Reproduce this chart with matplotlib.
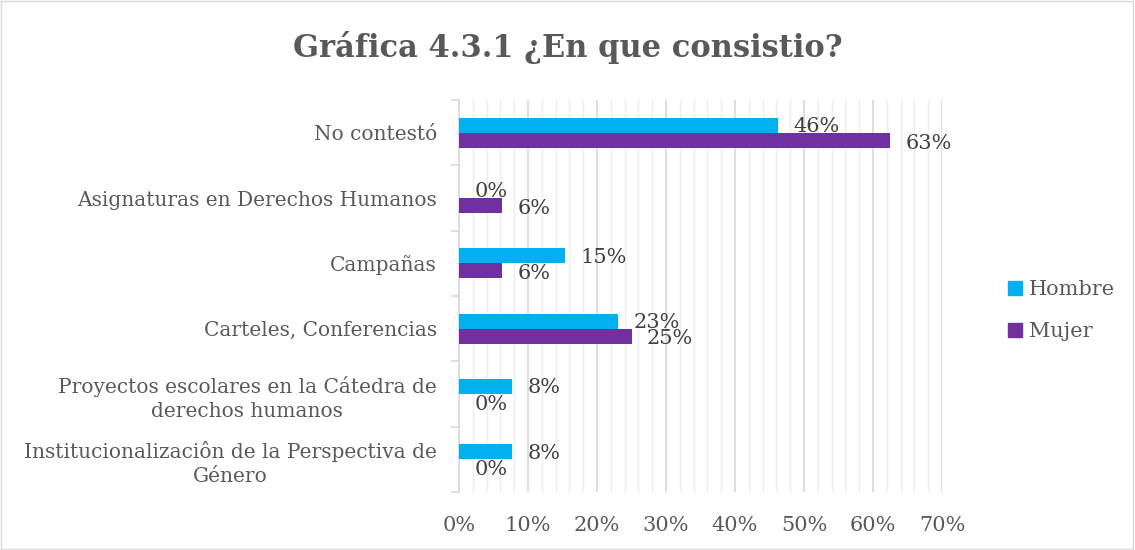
import matplotlib
matplotlib.use('Agg')
import matplotlib.pyplot as plt
from matplotlib.ticker import MultipleLocator, PercentFormatter
from matplotlib.patches import Patch, Rectangle

# datos
categorias = ['No contestó',
              'Asignaturas en Derechos Humanos',
              'Campañas',
              'Carteles, Conferencias',
              'Proyectos escolares en la Cátedra de\nderechos humanos',
              'Institucionalizaciôn de la Perspectiva de\nGénero']
hombre = [46.2, 0, 15.4, 23.1, 7.7, 7.7]
mujer = [62.5, 6.25, 6.25, 25.0, 0, 0]
series = ['Hombre', 'Mujer']
colores = ['#00B0F0', '#7030A0']

gris = '#595959'
fuente = 'DejaVu Serif'
plt.rcParams['font.family'] = fuente

fig = plt.figure(figsize=(11.35, 5.5), dpi=100)
ax = fig.add_axes([0.4044, 0.1055, 0.4256, 0.7125])

n = len(categorias)
pos = [n - 1 - i for i in range(n)]
h = 0.23
ax.barh([p + h/2 for p in pos], hombre, height=h, color=colores[0], zorder=3)
ax.barh([p - h/2 for p in pos], mujer, height=h, color=colores[1], zorder=3)

def etiqueta(v):
    # redondeo como Excel (mitad hacia arriba)
    return '%d%%' % int(v + 0.5)

# etiquetas de datos
for p, v in zip(pos, hombre):
    ax.annotate(etiqueta(v), (v, p + h/2), xytext=(11, -1), textcoords='offset points',
                va='center', ha='left', fontsize=15, color='#404040', zorder=4)
for p, v in zip(pos, mujer):
    ax.annotate(etiqueta(v), (v, p - h/2), xytext=(11, -2), textcoords='offset points',
                va='center', ha='left', fontsize=15, color='#404040', zorder=4)

ax.set_xlim(0, 70)
ax.set_ylim(-0.5, n - 0.5)
ax.xaxis.set_major_locator(MultipleLocator(10))
ax.xaxis.set_minor_locator(MultipleLocator(2))
ax.xaxis.set_major_formatter(PercentFormatter(decimals=0))
ax.grid(axis='x', which='major', color='#D9D9D9', lw=1.2, zorder=0)
ax.grid(axis='x', which='minor', color='#EDEDED', lw=1, zorder=0)
ax.tick_params(axis='x', which='both', length=0, labelsize=15, labelcolor=gris, pad=17)

ax.set_yticks(pos)
ax.set_yticklabels(categorias, fontsize=14.5, color=gris, multialignment='center',
                   linespacing=1.3)
ax.set_yticks([p + 0.5 for p in range(-1, n)], minor=True)
ax.tick_params(axis='y', which='major', length=0, pad=16)
ax.tick_params(axis='y', which='minor', length=6, color='#D9D9D9', width=1.2)

for s in ['top', 'right', 'bottom']:
    ax.spines[s].set_visible(False)
ax.spines['left'].set_color('#D9D9D9')
ax.spines['left'].set_linewidth(1.2)

fig.text(0.5, 0.914, 'Gráfica 4.3.1 ¿En que consistio?', ha='center', va='center',
         fontsize=22, fontweight='bold', color=gris)

handles = [Patch(color=c) for c in colores]
fig.legend(handles, series, loc='center left', bbox_to_anchor=(0.872, 0.435), frameon=False,
           fontsize=15, labelcolor=gris, handlelength=0.65, handleheight=0.65,
           handletextpad=0.35, labelspacing=1.1)

fig.patches.append(Rectangle((0.001, 0.002), 0.997, 0.996, transform=fig.transFigure,
                             fill=False, edgecolor='#D9D9D9', lw=1))

fig.savefig('out.png', dpi=100)
